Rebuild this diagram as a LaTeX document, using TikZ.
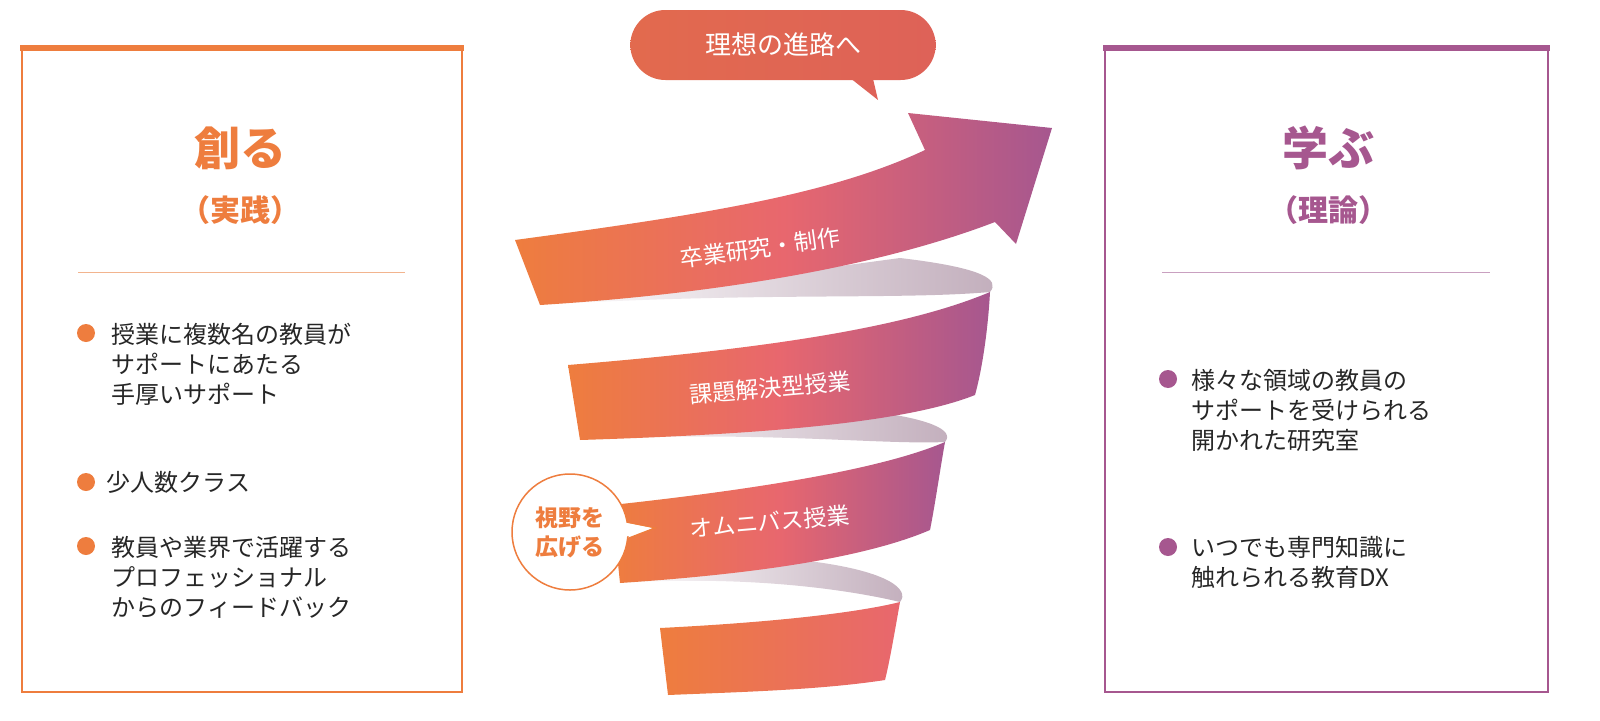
\documentclass[tikz,border=0pt]{standalone}
\usepackage{fontspec}
\setmainfont{Noto Sans CJK JP}
\usetikzlibrary{shapes.misc}
\definecolor{org}{HTML}{EE7D3E}
\definecolor{pnk}{HTML}{E8676E}
\definecolor{pur}{HTML}{A6578F}
\definecolor{gry}{HTML}{C2AEBC}
\definecolor{lorg}{HTML}{F2B48E}
\definecolor{lpur}{HTML}{C9A0C0}
\definecolor{bub1}{HTML}{E26A4E}
\definecolor{bub2}{HTML}{DE6258}
\tikzset{
  band/.style={left color=org,right color=pur,middle color=pnk,draw=none},
  bandb/.style={left color=org,right color=pnk,draw=none},
  fold/.style={left color=white,right color=gry,draw=none},
  body/.style={anchor=west,font=\fontsize{24}{30}\selectfont,text=black!85,align=left},
  ttl/.style={font=\fontsize{46}{50}\selectfont\bfseries},
  sub/.style={font=\fontsize{30}{34}\selectfont\bfseries},
  lbl/.style={text=white,font=\fontsize{23}{26}\selectfont,inner sep=1pt}
}
\begin{document}
\begin{tikzpicture}[x=1pt,y=-1pt]
\useasboundingbox (0,0) rectangle (1600,720);
% boxes
\draw[org,line width=1.5] (22,48) rectangle (462,692);
\fill[org] (20,45) rectangle (464,51);
\draw[pur,line width=1.5] (1105,48) rectangle (1548,692);
\fill[pur] (1103,45) rectangle (1550,51);
\node[ttl,text=org] (t1) at (240,148) {創る};
\node[sub,text=org] (s1) at (240,210) {（実践）};
\draw[lorg,line width=0.8] (78,272) -- (405,272);
\node[ttl,text=pur] (t2) at (1328,148) {学ぶ};
\node[sub,text=pur] (s2) at (1328,210) {（理論）};
\draw[lpur,line width=0.8] (1162,272) -- (1490,272);
% left bullets
\foreach \y in {333,482,546} \fill[org] (86,\y) circle (9);
\node[body] (b1) at (108,364) {授業に複数名の教員が\\サポートにあたる\\手厚いサポート};
\node[body] (b2) at (103,482) {少人数クラス};
\node[body] (b3) at (108,577) {教員や業界で活躍する\\プロフェッショナル\\からのフィードバック};
% right bullets
\foreach \y in {379,547} \fill[pur] (1168,\y) circle (9);
\node[body] (b4) at (1188,410) {様々な領域の教員の\\サポートを受けられる\\開かれた研究室};
\node[body] (b5) at (1188,562) {いつでも専門知識に\\触れられる教育DX};
% speech bubble top
\fill[bub2] (840,70) -- (878,100) -- (870,66) -- cycle;
\node[rounded rectangle,minimum width=312,minimum height=70,left color=bub1,right color=bub2,text=white,font=\fontsize{26}{30}\selectfont] (bub) at (783,45) {理想の進路へ};
% fold bands (grey)
\path[fold] (540,305) .. controls (750,292) and (900,300) .. (990,292) .. controls (1000,280) and (985,268) .. (900,258) -- (700,285) -- cycle;
\path[fold] (580,440) .. controls (750,430) and (880,445) .. (945,442) .. controls (955,430) and (930,418) .. (860,410) -- (700,420) -- cycle;
\path[fold] (620,583) .. controls (750,575) and (850,590) .. (900,602) .. controls (910,590) and (890,570) .. (800,560) -- (700,565) -- cycle;
% band 4
\path[bandb] (660,628) .. controls (780,622) and (860,612) .. (900,602) .. controls (895,630) and (890,660) .. (885,680) .. controls (820,690) and (740,692) .. (668,695) -- cycle;
% band 3
\path[band] (612,505) .. controls (750,490) and (880,470) .. (945,442) .. controls (940,470) and (935,505) .. (930,530) .. controls (860,560) and (740,575) .. (620,583) -- cycle;
% band 2
\path[band] (568,365) .. controls (750,350) and (900,330) .. (990,292) .. controls (988,330) and (982,370) .. (975,395) .. controls (900,425) and (740,435) .. (580,440) -- cycle;
% band 1 arrow
\path[band] (515,240) .. controls (700,215) and (830,195) .. (925,150) -- (908,113) -- (1052,128) -- (1016,244) -- (995,222) .. controls (870,270) and (700,295) .. (540,305) -- cycle;
\node[lbl,rotate=8] (l1) at (760,248) {卒業研究・制作};
\node[lbl,rotate=5] (l2) at (770,388) {課題解決型授業};
\node[lbl,rotate=5] (l3) at (770,522) {オムニバス授業};
% circle callout
\path[fill=white,draw=org,line width=1.5] (625,522) -- (655,528) -- (624,540);
\node[circle,fill=white,draw=org,line width=1.5,minimum size=116,text=org,align=center,font=\fontsize{23}{29}\selectfont\bfseries] (cc) at (570,532) {視野を\\広げる};
\fill[white] (622,522) -- (652,528) -- (622,538) -- cycle;
\end{tikzpicture}
\end{document}
